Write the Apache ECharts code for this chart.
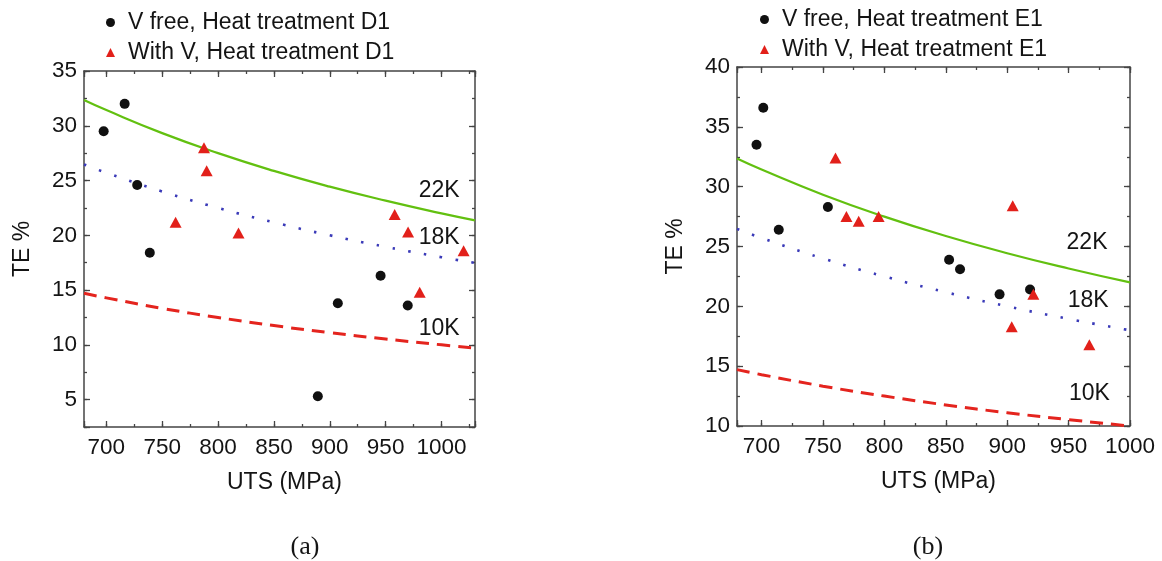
<!DOCTYPE html>
<html>
<head>
<meta charset="utf-8">
<script src="https://cdn.jsdelivr.net/npm/echarts@6/dist/echarts.min.js"></script>
<style>
  html, body { margin: 0; padding: 0; background: #ffffff; }
  #chart { width: 1162px; height: 561px; }
</style>
</head>
<body>
<div id="chart"></div>
<script>
// ---------- Panel (a): heat treatment D1 ----------
const vFreeUtsD1 = [697.6, 716.4, 727.6, 738.9, 889.3, 907.2, 945.5, 969.8];
const vFreeTeD1  = [29.5, 32.0, 24.6, 18.4, 5.3, 13.8, 16.3, 13.6];
const withVUtsD1 = [787.4, 789.8, 762.0, 818.3, 958.1, 970.1, 1019.8, 980.5];
const withVTeD1  = [28.0, 25.9, 21.2, 20.2, 21.9, 20.3, 18.6, 14.8];

// iso-product curves (UTS x TE) for panel (a)
const curveUtsA = [680, 700, 750, 800, 850, 900, 950, 1000, 1030];
const curve22kA = [32.35, 31.43, 29.33, 27.50, 25.88, 24.44, 23.16, 22.00, 21.36];
const curve18kA = [26.47, 25.71, 24.00, 22.50, 21.18, 20.00, 18.95, 18.00, 17.48];
const curve10kA = [14.71, 14.29, 13.33, 12.50, 11.76, 11.11, 10.53, 10.00, 9.71];
const curveLabelPosA = [[998, 24.1], [998, 19.8], [998, 11.5]];

// ---------- Panel (b): heat treatment E1 ----------
const vFreeUtsE1 = [695.9, 701.4, 714.0, 754.0, 852.7, 861.6, 893.8, 918.6];
const vFreeTeE1  = [33.5, 36.6, 26.4, 28.3, 23.9, 23.1, 21.0, 21.4];
const withVUtsE1 = [760.2, 769.1, 779.1, 795.3, 904.5, 903.7, 921.3, 966.9];
const withVTeE1  = [32.4, 27.5, 27.1, 27.5, 28.4, 18.3, 21.0, 16.8];

const curveUtsB = [680, 700, 750, 800, 850, 900, 950, 1000];
const curve22kB = [32.35, 31.43, 29.33, 27.50, 25.88, 24.44, 23.16, 22.00];
const curve18kB = [26.47, 25.71, 24.00, 22.50, 21.18, 20.00, 18.95, 18.00];
const curve10kB = [14.71, 14.29, 13.33, 12.50, 11.76, 11.11, 10.53, 10.00];
const curveLabelPosB = [[965, 25.3], [966, 20.5], [967, 12.7]];

const curveNames = ['22K', '18K', '10K'];
const legendNamesA = ['V free, Heat treatment D1', 'With V, Heat treatment D1'];
const legendNamesB = ['V free, Heat treatment E1', 'With V, Heat treatment E1'];
const captions = ['(a)', '(b)'];

// axis ranges
const xRangeA = [680, 1030], yRangeA = [2.5, 35];
const xRangeB = [680, 1000], yRangeB = [10, 40];

// ---------- styling ----------
const FONT = "'Liberation Sans', Arial, Helvetica, sans-serif";
const SERIF = "'Liberation Serif', 'Times New Roman', serif";
const AXIS_COLOR = '#444444';
const TEXT_COLOR = '#141414';
const FS = 23;        // names, legend, curve labels
const FS_TICK = 22.5; // tick labels

const zip = (xs, ys) => xs.map((x, i) => [x, ys[i]]);

const grids = [
  { left: 84, top: 71, width: 391, height: 356 },
  { left: 737, top: 67, width: 393, height: 359 }
];

const xAxes = [];
const yAxes = [];

// Four x axes and four y axes per grid: labelled major ticks, minor ticks,
// and mirrored copies on the opposite sides to close the frame.
function addAxes(g, xr, yr) {
  const lineOn = { show: true, onZero: false, lineStyle: { color: AXIS_COLOR, width: 1.5 } };
  const lineOff = { show: false };
  const tick = (len) => ({ show: true, inside: true, length: len, lineStyle: { color: AXIS_COLOR, width: 1.3 } });
  const common = { type: 'value', gridIndex: g, splitLine: { show: false }, silent: true };

  const xMajor = { ...common, min: xr[0], max: xr[1], minInterval: 50, maxInterval: 50, splitNumber: 7 };
  const xMinor = { ...common, min: xr[0], max: xr[1], minInterval: 25, maxInterval: 25, splitNumber: 14 };
  xAxes.push({
    ...xMajor, position: 'bottom', axisLine: lineOn, axisTick: tick(6),
    axisLabel: { show: true, margin: 9, fontSize: FS_TICK, fontFamily: FONT, color: TEXT_COLOR,
      formatter: v => (v % 50 === 0 ? String(v) : '') },
    name: 'UTS (MPa)', nameLocation: 'middle', nameGap: 44,
    nameTextStyle: { fontSize: FS, fontFamily: FONT, color: TEXT_COLOR, padding: [0, 0, 0, 10] }
  });
  xAxes.push({ ...xMinor, position: 'bottom', axisLine: lineOff, axisTick: tick(3), axisLabel: { show: false } });
  xAxes.push({ ...xMajor, position: 'top', axisLine: lineOn, axisTick: tick(6), axisLabel: { show: false } });
  xAxes.push({ ...xMinor, position: 'top', axisLine: lineOff, axisTick: tick(3), axisLabel: { show: false } });

  const yMajor = { ...common, min: yr[0], max: yr[1], minInterval: 5, maxInterval: 5, splitNumber: 7 };
  const yMinor = { ...common, min: yr[0], max: yr[1], interval: 2.5 };
  yAxes.push({
    ...yMajor, position: 'left', axisLine: lineOn, axisTick: tick(6),
    axisLabel: { show: true, margin: 7, fontSize: FS_TICK, fontFamily: FONT, color: TEXT_COLOR,
      formatter: v => (v % 5 === 0 ? String(v) : '') },
    name: 'TE %', nameLocation: 'middle', nameGap: 50,
    nameTextStyle: { fontSize: FS, fontFamily: FONT, color: TEXT_COLOR }
  });
  yAxes.push({ ...yMinor, position: 'left', axisLine: lineOff, axisTick: tick(3), axisLabel: { show: false } });
  yAxes.push({ ...yMajor, position: 'right', axisLine: lineOn, axisTick: tick(6), axisLabel: { show: false } });
  yAxes.push({ ...yMinor, position: 'right', axisLine: lineOff, axisTick: tick(3), axisLabel: { show: false } });
}
addAxes(0, xRangeA, yRangeA);
addAxes(1, xRangeB, yRangeB);

const curveStyles = [
  { color: '#62c010', width: 2.2, type: 'solid' },
  { color: '#3a3ab8', width: 2.6, type: [2.5, 13.5] },
  { color: '#e4241e', width: 3, type: [13, 8] }
];

function panelSeries(g, names, vfU, vfT, wvU, wvT, cU, curves, labelPos) {
  const ax = { xAxisIndex: g * 4, yAxisIndex: g * 4 };
  const out = [];
  curves.forEach((c, i) => {
    out.push({
      ...ax, type: 'line', name: curveNames[i] + '-' + g, data: zip(cU, c),
      smooth: true, showSymbol: false, symbol: 'none', silent: true, z: 2,
      lineStyle: { color: curveStyles[i].color, width: curveStyles[i].width, type: curveStyles[i].type, cap: 'butt' }
    });
  });
  out.push({
    ...ax, type: 'scatter', name: names[0], data: zip(vfU, vfT), symbol: 'circle', symbolSize: 10,
    itemStyle: { color: '#101010', opacity: 1 }, z: 5, silent: true
  });
  out.push({
    ...ax, type: 'scatter', name: names[1], data: zip(wvU, wvT), symbol: 'triangle', symbolSize: [12, 11],
    itemStyle: { color: '#e2201a', opacity: 1 }, z: 5, silent: true
  });
  out.push({
    ...ax, type: 'scatter', name: 'curve-labels-' + g,
    data: labelPos.map((p, i) => [p[0], p[1], curveNames[i]]),
    symbolSize: 1, itemStyle: { color: 'rgba(0,0,0,0)', opacity: 1 }, silent: true, z: 6,
    label: { show: true, position: 'inside', formatter: p => p.data[2], opacity: 1,
      textBorderWidth: 0, fontSize: FS, fontFamily: FONT, color: TEXT_COLOR }
  });
  return out;
}

const series = [
  ...panelSeries(0, legendNamesA, vFreeUtsD1, vFreeTeD1, withVUtsD1, withVTeD1,
    curveUtsA, [curve22kA, curve18kA, curve10kA], curveLabelPosA),
  ...panelSeries(1, legendNamesB, vFreeUtsE1, vFreeTeE1, withVUtsE1, withVTeE1,
    curveUtsB, [curve22kB, curve18kB, curve10kB], curveLabelPosB)
];

const legendBase = {
  orient: 'vertical', itemWidth: 9, itemHeight: 9, itemGap: 7, selectedMode: false,
  textStyle: { fontSize: FS, fontFamily: FONT, color: TEXT_COLOR, lineHeight: 22, padding: [0, 0, 0, 8] }
};

const option = {
  backgroundColor: '#ffffff',
  animation: false,
  grid: grids,
  xAxis: xAxes,
  yAxis: yAxes,
  legend: [
    { ...legendBase, left: 101, top: 6, data: legendNamesA },
    { ...legendBase, left: 755, top: 3, data: legendNamesB }
  ],
  graphic: [
    { type: 'text', x: 305, y: 547, style: { text: captions[0], fontSize: 26, fontFamily: SERIF, fill: TEXT_COLOR, align: 'center', verticalAlign: 'middle' } },
    { type: 'text', x: 928, y: 547, style: { text: captions[1], fontSize: 26, fontFamily: SERIF, fill: TEXT_COLOR, align: 'center', verticalAlign: 'middle' } }
  ],
  series: series
};

const chart = echarts.init(document.getElementById('chart'), null, { renderer: 'canvas' });
chart.setOption(option);
</script>
</body>
</html>
